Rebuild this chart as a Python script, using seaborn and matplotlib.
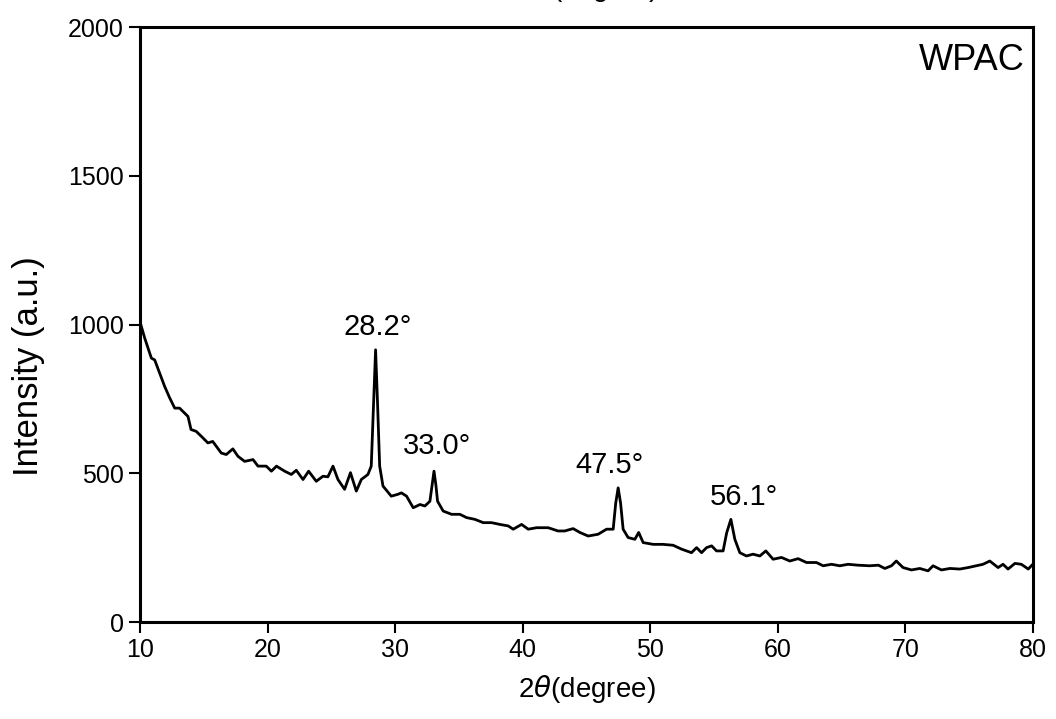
import numpy as np
import pandas as pd
import seaborn as sns
import matplotlib.pyplot as plt

# XRD pattern (2-theta in degrees, intensity in a.u.)
two_theta = [10.0, 10.37, 10.89, 11.15, 11.54, 11.93, 12.33, 12.72, 13.1, 13.5,
             13.76, 14.0, 14.4, 14.93, 15.32, 15.7, 16.37, 16.76, 17.28, 17.68,
             18.2, 18.86, 19.25, 19.9, 20.3, 20.7, 21.34, 21.86, 22.25, 22.78,
             23.22, 23.82, 24.34, 24.73, 25.13, 25.52, 26.04, 26.5, 26.96, 27.35,
             27.87, 28.13, 28.3, 28.47, 28.62, 28.79, 29.05, 29.7, 30.2, 30.5,
             30.9, 31.42, 31.95, 32.34, 32.73, 32.9, 33.05, 33.2, 33.33, 33.77,
             34.43, 35.08, 35.6, 36.26, 36.91, 37.56, 38.22, 38.87, 39.26, 39.92,
             40.44, 41.1, 42.0, 42.78, 43.3, 43.96, 44.49, 45.14, 45.92, 46.58,
             47.1, 47.3, 47.49, 47.68, 47.88, 48.27, 48.8, 49.1, 49.45, 50.24,
             51.0, 51.8, 52.46, 53.24, 53.64, 54.03, 54.42, 54.82, 55.2, 55.72,
             56.0, 56.33, 56.64, 57.03, 57.55, 58.07, 58.6, 59.07, 59.64, 60.3,
             60.95, 61.6, 62.26, 63.04, 63.56, 64.22, 64.87, 65.52, 66.3, 67.2,
             67.9, 68.4, 68.92, 69.3, 69.83, 70.49, 71.14, 71.79, 72.18, 72.84,
             73.5, 74.28, 74.93, 75.58, 76.1, 76.63, 77.28, 77.67, 78.06, 78.6,
             79.1, 79.65, 80.0]
intensity = [1009, 954, 887, 881, 836, 792, 753, 719, 719, 702,
             691, 647, 641, 619, 602, 607, 568, 563, 582, 557,
             540, 546, 524, 524, 507, 524, 507, 496, 510, 479,
             507, 473, 490, 488, 524, 479, 446, 502, 440, 479,
             496, 524, 720, 915, 740, 524, 457, 423, 429, 434,
             423, 384, 395, 390, 406, 460, 507, 460, 406, 373,
             362, 362, 351, 345, 334, 334, 328, 323, 312, 328,
             312, 317, 317, 306, 306, 314, 301, 289, 295, 312,
             312, 400, 451, 400, 312, 284, 278, 301, 267, 261,
             261, 258, 245, 233, 250, 233, 250, 256, 239, 239,
             300, 345, 278, 233, 222, 228, 222, 239, 211, 217,
             205, 213, 200, 200, 189, 194, 189, 194, 191, 189,
             191, 180, 189, 205, 183, 175, 180, 172, 189, 175,
             180, 178, 183, 189, 194, 205, 183, 194, 178, 197,
             194, 178, 194]

# peak labels
peak_labels = ["28.2°", "33.0°", "47.5°", "56.1°"]
label_x = [28.66, 33.32, 46.84, 57.35]
label_y = [992, 590, 529, 419]

sample_name = "WPAC"
x_ticks = [10, 20, 30, 40, 50, 60, 70, 80]
y_ticks = [0, 500, 1000, 1500, 2000]

sns.set_style("ticks")
plt.rcParams['font.family'] = ['Liberation Sans', 'DejaVu Sans']
plt.rcParams['text.color'] = 'black'
plt.rcParams['axes.labelcolor'] = 'black'

df = pd.DataFrame({"two_theta": two_theta, "intensity": intensity})

fig = plt.figure(figsize=(10.56, 7.19), dpi=100)
ax = fig.add_axes([0.1326, 0.1349, 0.978 - 0.1326, 0.9624 - 0.1349])
sns.lineplot(data=df, x="two_theta", y="intensity", color="black", lw=2.0, ax=ax)

ax.set_xlim(10, 80)
ax.set_ylim(0, 2000)
ax.set_xticks(x_ticks)
ax.set_yticks(y_ticks)
ax.tick_params(axis='both', direction='out', length=8, width=1.5, labelsize=18,
               colors='black', top=False, right=False)
for s in ax.spines.values():
    s.set_linewidth(2.2)
    s.set_color('black')

ax.set_xlabel(r"2$\theta$(degree)", fontsize=20, labelpad=8)
ax.set_ylabel("Intensity (a.u.)", fontsize=25)
ax.yaxis.set_label_coords(-0.106, 0.43)

for lab, lx, ly in zip(peak_labels, label_x, label_y):
    ax.text(lx, ly, lab, ha='center', va='center', fontsize=21)
ax.text(79.4, 1886, sample_name, ha='right', va='center', fontsize=26)

# the x label of the panel above, cut off by the top edge
fig.text(0.558, 1.006, r"2$\theta$(degree)", ha='center', va='baseline', fontsize=20)

fig.savefig("out.png", dpi=100)
